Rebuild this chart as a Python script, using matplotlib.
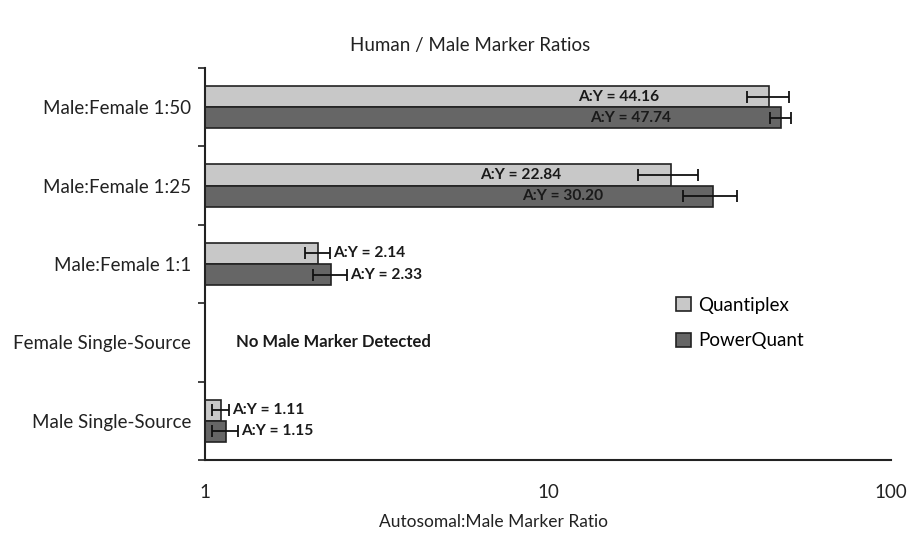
import numpy as np
import matplotlib
matplotlib.use("Agg")
import matplotlib.pyplot as plt

categories = ["Male:Female 1:50", "Male:Female 1:25", "Male:Female 1:1",
              "Female Single-Source", "Male Single-Source"]
quantiplex = [44.16, 22.84, 2.14, np.nan, 1.11]
quantiplex_err = [6.2, 4.5, 0.18, np.nan, 0.065]
powerquant = [47.74, 30.20, 2.33, np.nan, 1.15]
powerquant_err = [3.3, 5.4, 0.27, np.nan, 0.10]
series_names = ["Quantiplex", "PowerQuant"]
no_detect_text = "No Male Marker Detected"
xticks = [1, 10, 100]
xtick_labels = ["1", "10", "100"]

FONT = "Lato"
plt.rcParams['font.family'] = [FONT, 'DejaVu Sans']

fig = plt.figure(figsize=(9.13, 5.43), dpi=100)
ax = fig.add_axes([0.2245, 0.1529, 0.7514, 0.7219])

y = np.arange(len(categories))
h = 0.27
light = "#c8c8c8"
dark = "#666666"

q = np.array(quantiplex, dtype=float)
p = np.array(powerquant, dtype=float)
qe = np.array(quantiplex_err, dtype=float)
pe = np.array(powerquant_err, dtype=float)

ax.set_xscale("log")
ax.barh(y - h / 2, q - 1, left=1, height=h, color=light, edgecolor="#222222",
        linewidth=1.2, label=series_names[0], zorder=2)
ax.barh(y + h / 2, p - 1, left=1, height=h, color=dark, edgecolor="#222222",
        linewidth=1.2, label=series_names[1], zorder=2)
ax.errorbar(q, y - h / 2, xerr=qe, fmt="none", ecolor="#111111", elinewidth=1.3,
            capsize=4, capthick=1.3, zorder=3)
ax.errorbar(p, y + h / 2, xerr=pe, fmt="none", ecolor="#111111", elinewidth=1.3,
            capsize=4, capthick=1.3, zorder=3)

for vals, errs, offs in ((q, qe, -h / 2), (p, pe, h / 2)):
    for yi, v, e in zip(y, vals, errs):
        if np.isnan(v):
            continue
        txt = f"A:Y = {v:.2f}"
        if v > 10:
            ax.annotate(txt, (v, yi + offs), xytext=(-79, 0), textcoords="offset points",
                        ha="right", va="center", fontsize=11.2, fontweight="bold",
                        color="#1a1a1a", zorder=4)
        else:
            ax.annotate(txt, (v + e, yi + offs), xytext=(2, 0), textcoords="offset points",
                        ha="left", va="center", fontsize=11.2, fontweight="bold",
                        color="#1a1a1a", zorder=4)

for yi, v in zip(y, q):
    if np.isnan(v):
        ax.annotate(no_detect_text, (1, yi), xytext=(22, 0), textcoords="offset points",
                    ha="left", va="center", fontsize=12, fontweight="bold", color="#1a1a1a")

ax.set_xlim(1, 100)
ax.set_ylim(len(categories) - 0.5, -0.5)
ax.set_xticks(xticks)
ax.set_xticklabels(xtick_labels, fontsize=13.5, color="#222222")
ax.xaxis.set_minor_locator(matplotlib.ticker.NullLocator())
ax.tick_params(axis="x", length=0, pad=17)

ax.set_yticks(y)
ax.set_yticklabels(categories, fontsize=13.5, color="#222222")
ax.tick_params(axis="y", which="major", length=0, pad=10)
ax.set_yticks(np.arange(-0.5, len(categories), 1.0), minor=True)
ax.tick_params(axis="y", which="minor", length=5, width=1.2, color="#222222")

for s in ("top", "right"):
    ax.spines[s].set_visible(False)
for s in ("left", "bottom"):
    ax.spines[s].set_linewidth(1.5)
    ax.spines[s].set_color("#222222")

fig.text(470 / 913, 1 - 45 / 543, "Human / Male Marker Ratios", fontsize=13.5,
         color="#222222", ha="center", va="center")
fig.text(493 / 913, 1 - 522 / 543, "Autosomal:Male Marker Ratio", fontsize=12.5,
         color="#222222", ha="center", va="center")

leg = ax.legend(loc="upper left", bbox_to_anchor=(0.662, 0.46), frameon=False,
                fontsize=13.5, handlelength=0.8, handleheight=0.8, handletextpad=0.4,
                labelspacing=1.0)

fig.savefig("out.png", dpi=100)
